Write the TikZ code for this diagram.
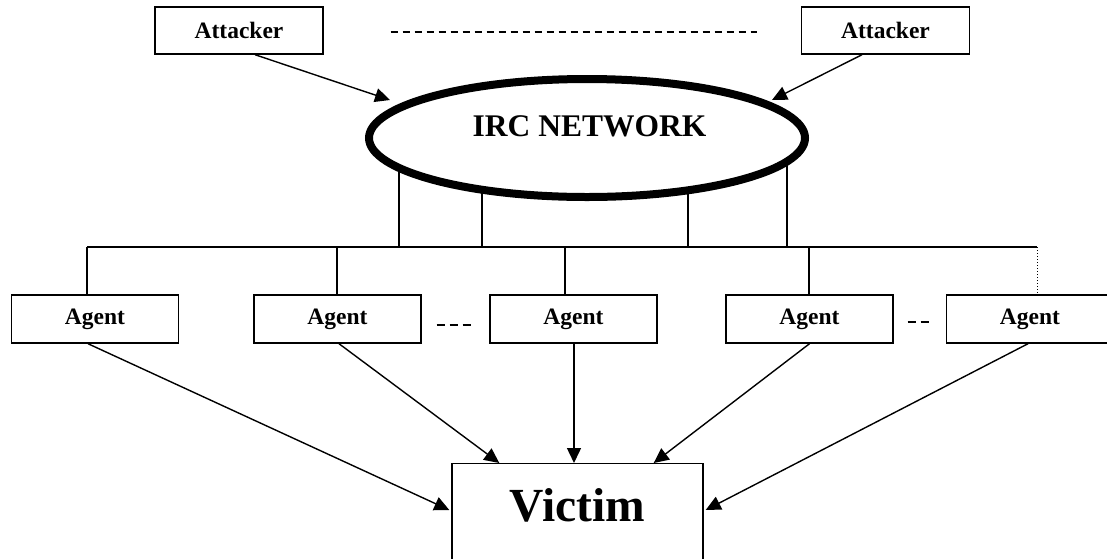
\documentclass[tikz,border=0pt]{standalone}
\usepackage{fontspec}
\setmainfont{Liberation Serif}
\usetikzlibrary{arrows.meta,calc,shapes.geometric,backgrounds}
\begin{document}
\begin{tikzpicture}[x=1pt,y=-1pt,
  box/.style={draw, line width=1.4pt, inner sep=0pt, fill=white,
              font=\bfseries\fontsize{23.5}{25}\selectfont},
  attbox/.style={box, minimum width=168pt, minimum height=47pt},
  agentbox/.style={box, minimum width=167pt, minimum height=48pt},
  wire/.style={line width=1.3pt},
  arr/.style={line width=1.4pt, -{Triangle[length=15pt,width=14pt]}},
  gapline/.style={line width=1.2pt, dash pattern=on 8pt off 5pt},
]
\useasboundingbox (0,0) rectangle (1107,558);
\clip (0,0) rectangle (1107,558);

% attackers
\node[attbox] (att1) at (239,30.5) {Attacker};
\node[attbox] (att2) at (885.5,30.5) {Attacker};
\draw[line width=1.1pt, dash pattern=on 7pt off 5pt]
  ($(att1.east)+(67,1.5)$) coordinate (dl) -- ($(att2.west)+(-44,1.5)$) coordinate (dr);

% IRC network
\node[ellipse, draw, fill=white, line width=8pt, minimum width=436pt,
      minimum height=118pt, inner sep=0pt] (irc) at (587,138) {};
\node[font=\bfseries\fontsize{31.5}{33}\selectfont] (irctext) at (589.5,126.5) {IRC NETWORK};

\coordinate (tipL) at (390,100);
\coordinate (tipR) at (772,100);
\draw[arr] ($(att1.south)+(16,0)$) -- (tipL);
\draw[arr] ($(att2.south)+(-23.5,0)$) -- (tipR);

% agents
\node[agentbox] (ag1) at (95,319) {Agent};
\node[agentbox] (ag2) at (337.5,319) {Agent};
\node[agentbox] (ag3) at (573.5,319) {Agent};
\node[agentbox] (ag4) at (809.5,319) {Agent};
\node[agentbox] (ag5) at (1030,319) {Agent};

% bus between the network and the agents
\coordinate (busL) at (87,247);
\coordinate (busR) at (1037,247);
\coordinate (f1) at (399,247);
\coordinate (f2) at (482,247);
\coordinate (f3) at (688,247);
\coordinate (f4) at (787,247);
\coordinate (d2) at (337,247);
\coordinate (d3) at (565,247);
\coordinate (d4) at (809,247);
\begin{scope}[on background layer]
  \fill[white] (0,0) rectangle (1107,558);
  \foreach \f in {f1,f2,f3,f4}
    \draw[wire] (\f) -- (\f |- irc.center);
\end{scope}
\draw[wire] (busL) -- (busR);
\draw[wire] (busL) -- (busL |- ag1.north);
\draw[wire] (d2) -- (d2 |- ag2.north);
\draw[wire] (d3) -- (d3 |- ag3.north);
\draw[wire] (d4) -- (d4 |- ag4.north);
\draw[line width=1pt, dotted] (busR) -- (busR |- ag5.north);

% gaps between agents
\draw[gapline] ($(ag2.east)+(15,6)$) -- ($(ag3.west)+(-18,6)$);
\draw[gapline] ($(ag4.east)+(14,3)$) -- ($(ag5.west)+(-15,3)$);

% victim
\node[draw, line width=1.4pt, minimum width=251pt, minimum height=120pt,
      anchor=north, inner sep=0pt] (victim) at (577.5,463) {};
\node[font=\bfseries\fontsize{47.5}{50}\selectfont] (victext) at (577.5,505) {Victim};

\draw[arr] ($(ag1.south)+(-7,0)$) -- ($(victim.north west)+(-2,47)$);
\draw[arr] ($(ag2.south)+(1.5,0)$) -- ($(victim.north west)+(48,0)$);
\draw[arr] ($(ag3.south)+(0.5,0)$) -- ($(ag3.south |- victim.north)+(0.5,0)$);
\draw[arr] (ag4.south) -- ($(victim.north east)+(-50,0)$);
\draw[arr] ($(ag5.south)+(-2,0)$) -- ($(victim.north east)+(2,47)$);
\end{tikzpicture}
\end{document}
